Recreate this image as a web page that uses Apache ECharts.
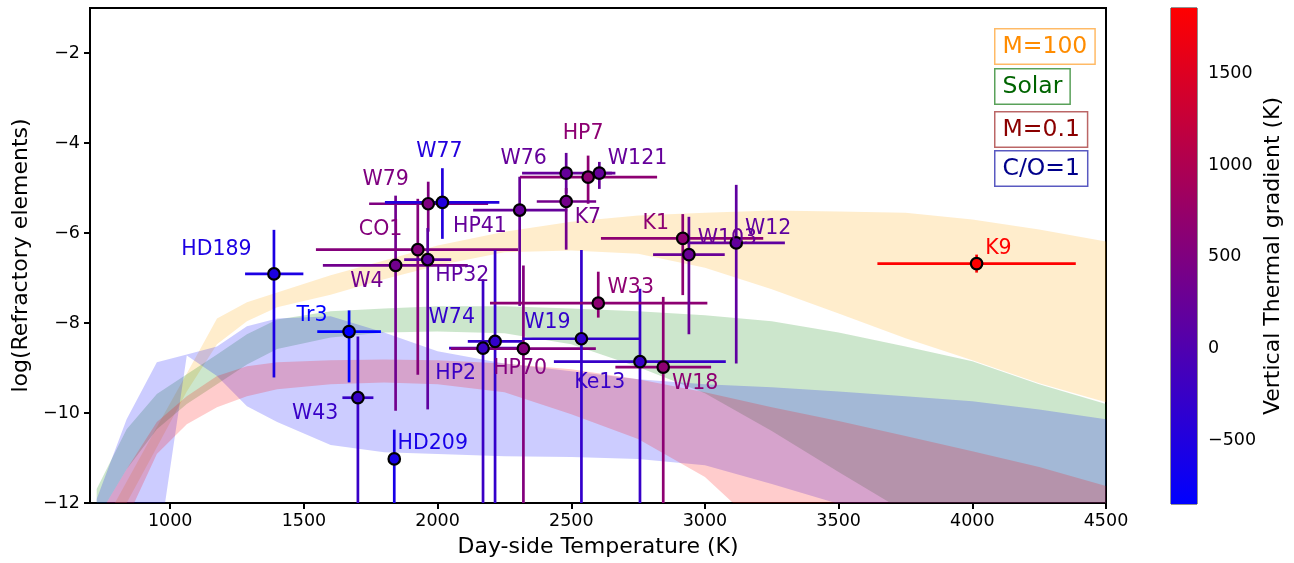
<!DOCTYPE html>
<html><head><meta charset="utf-8">
<script src="https://cdn.jsdelivr.net/npm/echarts@6/dist/echarts.min.js"></script>
<style>html,body{margin:0;padding:0;background:#fff}#c{width:1294px;height:563px}</style>
</head><body><div id="c"></div>
<script>
// ---------- data ----------
const names   = ['HD189','Tr3','W43','HD209','W4','CO1','W79','W77','HP32','W74','HP2','HP41','HP70','W76','HP7','W121','K7','W19','Ke13','W33','W18','K1','W103','W12','K9'];
const tDay    = [1388,1669,1702,1838,1843,1926,1965,2018,1963,2215,2170,2307,2321,2481,2563,2605,2481,2538,2757,2601,2844,2917,2940,3117,4016];
const tErrLo  = [108,119,58,20,272,381,221,215,88,102,127,174,271,165,255,60,110,220,322,405,179,306,134,182,371];
const tErrHi  = [110,119,58,20,270,375,224,213,88,102,127,178,271,171,258,60,112,220,321,408,179,301,134,182,371];
const logRef  = [-6.91,-8.19,-9.66,-11.02,-6.72,-6.37,-5.35,-5.32,-6.59,-8.41,-8.56,-5.49,-8.57,-4.67,-4.76,-4.67,-5.30,-8.35,-8.86,-7.56,-8.98,-6.12,-6.48,-6.22,-6.68];
const logErrLo= [2.30,1.13,3.0,2.0,3.23,2.78,0.62,0.81,3.33,4.0,4.0,2.13,4.0,0.45,0.59,0.35,1.07,4.0,4.0,0.32,4.0,1.26,1.77,2.68,0.20];
const logErrHi= [0.98,0.47,1.36,0.65,1.55,1.13,0.49,0.76,0.70,2.03,1.53,0.74,1.85,0.45,0.48,0.25,0.30,1.97,1.62,0.70,1.56,0.54,0.84,1.29,0.20];
const gradient= [-550,-845,-250,-600,350,550,500,-480,150,-300,-230,220,530,220,650,220,380,-300,-260,650,650,650,270,160,1855];

const xTicks = [1000,1500,2000,2500,3000,3500,4000,4500];
const yTicks = [-12,-10,-8,-6,-4,-2];
const cbTicks = [-500,0,500,1000,1500];

// model bands
const bandT      = [725,837,950,1062,1175,1287,1400,1600,1800,2000,2250,2500,2750,3000,3250,3500,3750,4000,4250,4500];
const m100Upper  = [-12.73,-11.53,-10.31,-9.12,-7.90,-7.54,-7.32,-6.94,-6.61,-6.28,-5.97,-5.75,-5.61,-5.55,-5.50,-5.52,-5.55,-5.70,-5.92,-6.19];
const m100Lower  = [-13.24,-12.00,-10.76,-9.52,-8.47,-7.96,-7.65,-7.37,-7.03,-6.72,-6.43,-6.39,-6.46,-6.77,-7.25,-7.79,-8.34,-8.83,-9.34,-9.76];
const solarUpper = [-11.69,-10.36,-9.58,-9.14,-8.70,-8.25,-7.92,-7.74,-7.68,-7.63,-7.63,-7.68,-7.74,-7.83,-7.96,-8.21,-8.52,-8.85,-9.36,-9.80];
const solarLower = [-12.36,-11.25,-10.36,-9.80,-9.36,-8.92,-8.58,-8.32,-8.21,-8.19,-8.23,-8.47,-8.98,-9.56,-10.40,-11.31,-12.20,-13.13,-14.02,-14.91];
const coUpper    = [-11.91,-10.14,-8.87,-8.70,-8.52,-8.07,-7.90,-7.85,-8.21,-8.63,-8.90,-9.07,-9.25,-9.36,-9.43,-9.52,-9.63,-9.74,-9.92,-10.14];
const coLower    = [-14.30,-14.30,-13.24,-8.72,-9.18,-9.85,-10.20,-10.71,-10.87,-10.91,-10.96,-10.98,-11.02,-11.16,-11.58,-12.02,-12.58,-13.13,-13.69,-14.13];
const m01Upper   = [-12.36,-11.25,-10.20,-9.63,-9.18,-8.96,-8.87,-8.83,-8.81,-8.83,-8.90,-9.03,-9.25,-9.54,-9.87,-10.18,-10.51,-10.85,-11.20,-11.62];
const m01Lower   = [-13.69,-12.36,-10.91,-10.25,-9.87,-9.63,-9.47,-9.36,-9.32,-9.36,-9.54,-10.03,-10.58,-11.42,-12.80,-14.13,-15.46,-16.79,-18.12,-19.45];

const legendTexts = ['M=100','Solar','M=0.1','C/O=1'];

// ---------- styles / layout ----------
const labelDx = [-57.5,-37,-42.7,38.5,-28.7,-37.2,-42.5,-3,34.6,-43.3,-27.3,-39.7,-3.3,-42.6,-5,38.2,21.7,-34,-40.2,32.5,32,-26.9,38.5,32,21.8];
const labelDy = [-25,-16.5,15.2,-16.2,14.8,-20.6,-25.1,-52,15.3,-24.8,24,15.4,19.5,-15.7,-44.7,-15.7,15.2,-16.8,20.2,-16.2,15.3,-16.2,-17,-15.6,-16];
const vmin = -845, vmax = 1855;
const FONT = '"DejaVu Sans", sans-serif';
function gradColor(g){
  const f = Math.max(0, Math.min(1, (g - vmin) / (vmax - vmin)));
  return 'rgb(' + Math.round(255*f) + ',0,' + Math.round(255*(1-f)) + ')';
}
const fmt = v => String(v).replace('-', '\u2212');

const bands = [
  {upper: m100Upper, lower: m100Lower, color: 'rgba(255,165,0,0.2)'},
  {upper: solarUpper, lower: solarLower, color: 'rgba(0,128,0,0.2)'},
  {upper: coUpper, lower: coLower, color: 'rgba(0,0,255,0.2)'},
  {upper: m01Upper, lower: m01Lower, color: 'rgba(255,0,0,0.2)'}
];

const chart = echarts.init(document.getElementById('c'), null, {renderer: 'canvas'});

const bandSeries = bands.map((b, k) => ({
  type: 'custom', xAxisIndex: 0, yAxisIndex: 0, clip: true, silent: true, z: 1 + k * 0.01,
  data: [[bandT[0], b.upper[0]]],
  renderItem: function (params, api) {
    const pts = [];
    for (let i = 0; i < bandT.length; i++) pts.push(api.coord([bandT[i], b.upper[i]]));
    for (let i = bandT.length - 1; i >= 0; i--) pts.push(api.coord([bandT[i], b.lower[i]]));
    return {type: 'polygon', shape: {points: pts}, style: {fill: b.color, stroke: null}};
  }
}));

const errData = names.map((n, i) => [tDay[i], logRef[i], tDay[i]-tErrLo[i], tDay[i]+tErrHi[i], logRef[i]-logErrLo[i], logRef[i]+logErrHi[i], gradient[i]]);

const errSeries = {
  type: 'custom', xAxisIndex: 0, yAxisIndex: 0, clip: true, silent: true, z: 5,
  data: errData,
  encode: {x: 0, y: 1},
  renderItem: function (params, api) {
    const x = api.value(0), y = api.value(1);
    const c = gradColor(api.value(6));
    const h1 = api.coord([api.value(2), y]), h2 = api.coord([api.value(3), y]);
    const v1 = api.coord([x, api.value(4)]), v2 = api.coord([x, api.value(5)]);
    return {type: 'group', children: [
      {type: 'line', shape: {x1: h1[0], y1: h1[1], x2: h2[0], y2: h2[1]}, style: {stroke: c, lineWidth: 2.7}},
      {type: 'line', shape: {x1: v1[0], y1: v1[1], x2: v2[0], y2: v2[1]}, style: {stroke: c, lineWidth: 2.7}}
    ]};
  }
};

const scatterSeries = {
  type: 'scatter', xAxisIndex: 0, yAxisIndex: 0, z: 6, symbol: 'circle', symbolSize: 11.5,
  data: names.map((n, i) => ({
    value: [tDay[i], logRef[i]],
    itemStyle: {color: gradColor(gradient[i]), borderColor: '#000', borderWidth: 2.2, opacity: 1},
    label: {show: true, formatter: n, position: 'inside', offset: [labelDx[i], labelDy[i] + 1],
            align: 'center', verticalAlign: 'middle', color: gradColor(gradient[i]),
            fontFamily: FONT, fontSize: 20.5}
  })),
  emphasis: {disabled: true}
};

const cbSeries = {
  type: 'custom', xAxisIndex: 1, yAxisIndex: 1, silent: true, z: 1,
  data: [[0, vmax]],
  renderItem: function (params, api) {
    const p1 = api.coord([0, vmax]), p2 = api.coord([1, vmin]);
    return {type: 'rect', shape: {x: p1[0], y: p1[1], width: p2[0]-p1[0], height: p2[1]-p1[1]},
      style: {fill: new echarts.graphic.LinearGradient(0, 0, 0, 1, [{offset: 0, color: '#ff0000'}, {offset: 1, color: '#0000ff'}])}};
  }
};

const legendColors = [
  {fill: '#ff8c00', border: 'rgba(255,140,0,0.6)'},
  {fill: '#006400', border: 'rgba(0,110,0,0.65)'},
  {fill: '#8b0000', border: 'rgba(150,20,20,0.65)'},
  {fill: '#00008b', border: 'rgba(0,0,160,0.65)'}
];
const legendY = [28, 68, 111, 150];
const graphics = legendTexts.map((t, i) => ({
  type: 'text', z: 100, left: 994, top: legendY[i],
  style: {text: t, font: '23.5px ' + FONT, fill: legendColors[i].fill, backgroundColor: '#fff',
          borderColor: legendColors[i].border, borderWidth: 1.5, padding: [5, 7, 5, 7]}
}));

const axisLabelStyle = {color: '#000', fontFamily: FONT, fontSize: 17.5};

chart.setOption({
  animation: false,
  backgroundColor: '#fff',
  grid: [
    {left: 90, top: 8, width: 1016, height: 496, show: true, borderColor: '#000', borderWidth: 2, backgroundColor: 'transparent'},
    {left: 1171, top: 8, width: 26, height: 496, show: true, borderColor: '#222', borderWidth: 1, backgroundColor: 'transparent'}
  ],
  xAxis: [
    {type: 'value', gridIndex: 0, min: 700, max: 4500,
     name: 'Day-side Temperature (K)', nameLocation: 'middle', nameGap: 33,
     nameTextStyle: {color: '#000', fontFamily: FONT, fontSize: 22},
     axisLine: {show: true, onZero: false, lineStyle: {color: '#000', width: 2}},
     axisTick: {show: true, inside: false, length: 6, lineStyle: {color: '#000', width: 2}, customValues: xTicks},
     axisLabel: Object.assign({margin: 9, customValues: xTicks, formatter: fmt}, axisLabelStyle),
     splitLine: {show: false}},
    {type: 'value', gridIndex: 1, min: 0, max: 1, show: false}
  ],
  yAxis: [
    {type: 'value', gridIndex: 0, min: -12, max: -1,
     name: 'log(Refractory elements)', nameLocation: 'middle', nameGap: 58, nameRotate: 90,
     nameTextStyle: {color: '#000', fontFamily: FONT, fontSize: 22},
     axisLine: {show: true, onZero: false, lineStyle: {color: '#000', width: 2}},
     axisTick: {show: true, inside: false, length: 6, lineStyle: {color: '#000', width: 2}, customValues: yTicks},
     axisLabel: Object.assign({margin: 10, customValues: yTicks, formatter: fmt}, axisLabelStyle),
     splitLine: {show: false}},
    {type: 'value', gridIndex: 1, min: vmin, max: vmax, position: 'right',
     name: 'Vertical Thermal gradient (K)', nameLocation: 'middle', nameGap: 65, nameRotate: 90,
     nameTextStyle: {color: '#000', fontFamily: FONT, fontSize: 22},
     axisLine: {show: false},
     axisTick: {show: true, inside: false, length: 5, lineStyle: {color: '#000', width: 1}, customValues: cbTicks},
     axisLabel: Object.assign({margin: 11, customValues: cbTicks, formatter: fmt}, axisLabelStyle),
     splitLine: {show: false}}
  ],
  graphic: graphics,
  series: bandSeries.concat([errSeries, scatterSeries, cbSeries])
});
</script>
</body></html>
